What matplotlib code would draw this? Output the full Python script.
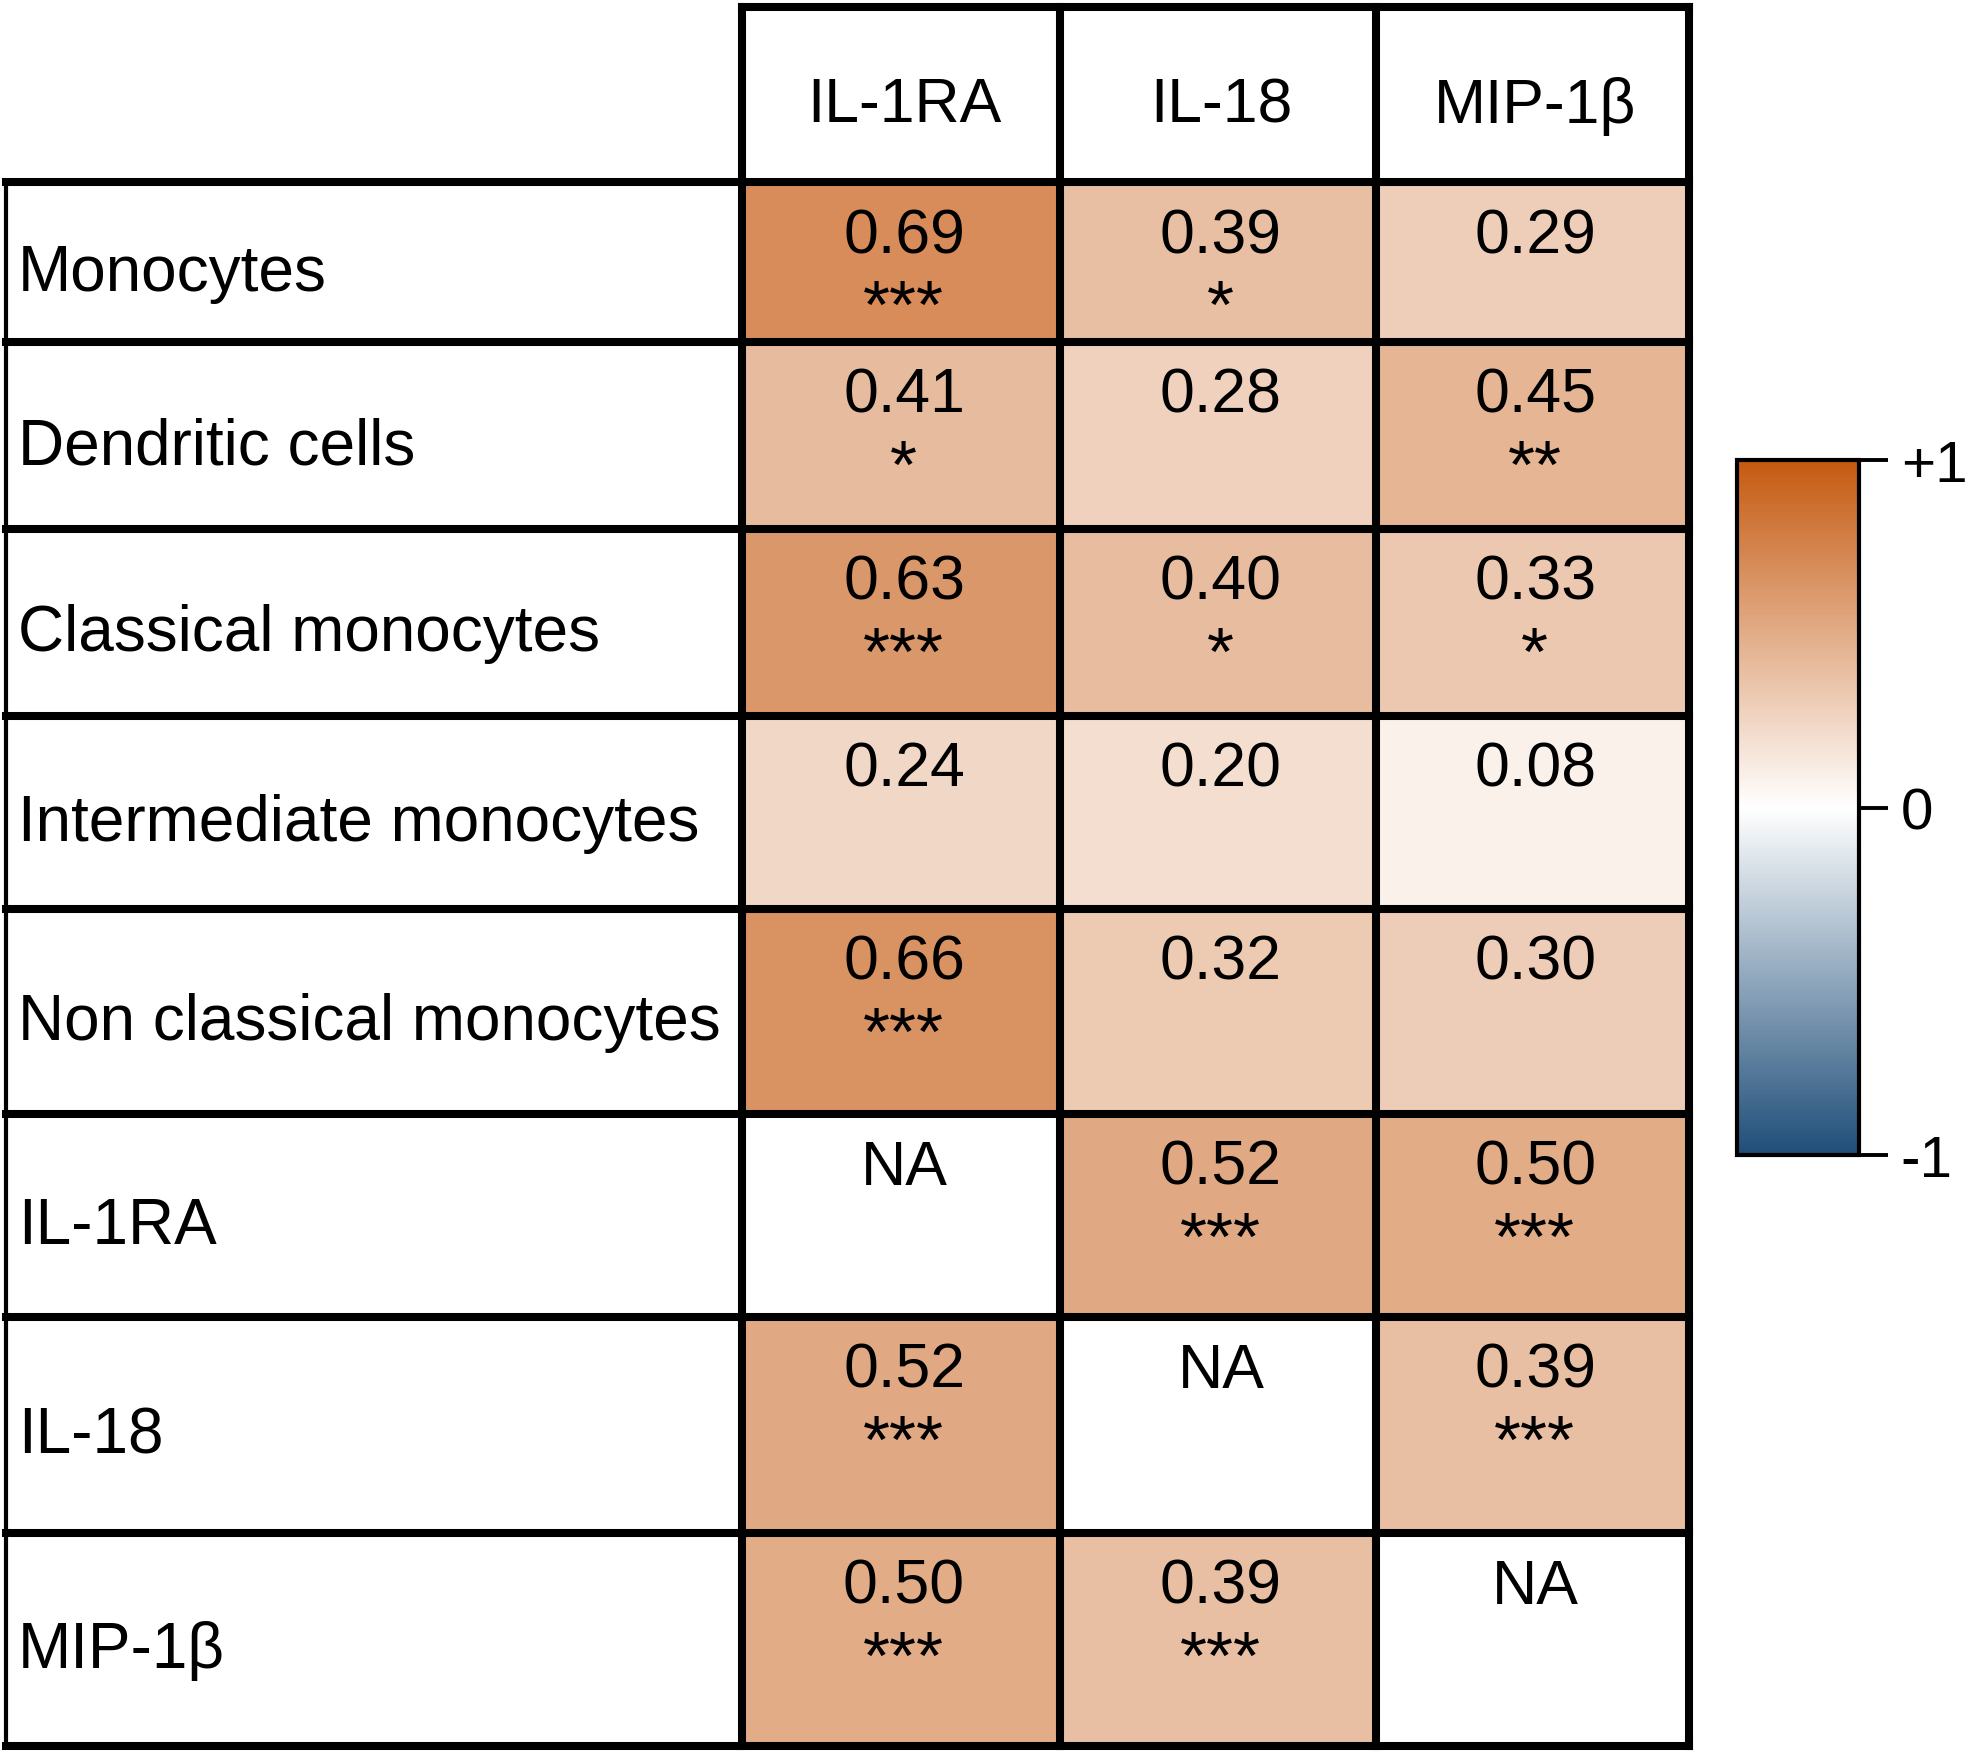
import numpy as np
import matplotlib
matplotlib.use("Agg")
import matplotlib.pyplot as plt
from matplotlib.colors import LinearSegmentedColormap, Normalize
from matplotlib.cm import ScalarMappable

# ---------------- data ----------------
row_labels = ["Monocytes", "Dendritic cells", "Classical monocytes",
              "Intermediate monocytes", "Non classical monocytes",
              "IL-1RA", "IL-18", "MIP-1β"]
col_labels = ["IL-1RA", "IL-18", "MIP-1β"]
values_il1ra = [0.69, 0.41, 0.63, 0.24, 0.66, np.nan, 0.52, 0.50]
values_il18 = [0.39, 0.28, 0.40, 0.20, 0.32, 0.52, np.nan, 0.39]
values_mip1b = [0.29, 0.45, 0.33, 0.08, 0.30, 0.50, 0.39, np.nan]
stars_il1ra = ["***", "*", "***", "", "***", "", "***", "***"]
stars_il18 = ["*", "", "*", "", "", "***", "", "***"]
stars_mip1b = ["", "**", "*", "", "", "***", "***", ""]
cbar_ticks = [-1, 0, 1]
cbar_ticklabels = ["-1", "0", "+1"]

# ---------------- layout (pixels) ----------------
W, H = 1969, 1756
x_edges = [6, 742, 1060, 1376, 1689]          # label column + 3 data columns
y_edges = [8, 183, 343, 530, 717, 910, 1115, 1318, 1534, 1747]  # header + 8 rows
FS = 45
FS_LAB = 46
FS_STAR = 50
FONT = ["Liberation Sans", "DejaVu Sans"]

values = np.column_stack([values_il1ra, values_il18, values_mip1b])
stars = np.column_stack([stars_il1ra, stars_il18, stars_mip1b])

cmap = LinearSegmentedColormap.from_list("or_bl", ["#1F4E79", "#FFFFFF", "#C55A11"])
cmap.set_bad("white")
norm = Normalize(-1, 1)

fig = plt.figure(figsize=(W / 100, H / 100), dpi=100)
ax = fig.add_axes([0, 0, 1, 1])
ax.set_xlim(0, W)
ax.set_ylim(H, 0)
ax.axis("off")

ax.pcolormesh(x_edges[1:], y_edges[1:], np.ma.masked_invalid(values),
              cmap=cmap, norm=norm, shading="flat")

lw = 5.8
# horizontal lines
ax.hlines(y_edges[0], x_edges[1], x_edges[-1], color="black", lw=lw, capstyle="projecting")
ax.hlines(y_edges[1:], x_edges[0], x_edges[-1], color="black", lw=lw, capstyle="projecting")
# vertical lines
ax.vlines(x_edges[0], y_edges[1], y_edges[-1], color="black", lw=3.0, capstyle="projecting")
ax.vlines(x_edges[1:], y_edges[0], y_edges[-1], color="black", lw=lw, capstyle="projecting")

# header labels
for j, lab in enumerate(col_labels):
    xc = (x_edges[j + 1] + x_edges[j + 2]) / 2
    yc = (y_edges[0] + y_edges[1]) / 2
    ax.text(xc + 3, yc + 27, lab, ha="center", va="baseline", fontsize=FS, family=FONT)

# row labels and cell texts
for i, lab in enumerate(row_labels):
    top, bot = y_edges[i + 1], y_edges[i + 2]
    yc = (top + bot) / 2
    ax.text(18, yc + 28, lab, ha="left", va="baseline", fontsize=FS_LAB, family=FONT)
    for j in range(3):
        xc = (x_edges[j + 1] + x_edges[j + 2]) / 2
        v = values[i, j]
        txt = "NA" if np.isnan(v) else f"{v:.2f}"
        ax.text(xc + 3, top + 70, txt, ha="center", va="baseline", fontsize=FS, family=FONT)
        if stars[i, j]:
            ax.text(xc + 2, top + 145, stars[i, j], ha="center", va="baseline",
                    fontsize=FS_STAR, family=FONT)

# colorbar
cb_l, cb_r, cb_t, cb_b = 1737, 1859, 461, 1156
cax = fig.add_axes([cb_l / W, 1 - cb_b / H, (cb_r - cb_l) / W, (cb_b - cb_t) / H])
cb = fig.colorbar(ScalarMappable(norm=norm, cmap=cmap), cax=cax, orientation="vertical")
cb.set_ticks(cbar_ticks)
cb.set_ticklabels(cbar_ticklabels)
cb.outline.set_linewidth(3.0)
cb.outline.set_edgecolor("black")
cax.tick_params(axis="y", length=21, width=2.8, pad=9, labelsize=42, color="black")
for t in cax.get_yticklabels():
    t.set_family(FONT)

fig.savefig("out.png", dpi=100, facecolor="white")
